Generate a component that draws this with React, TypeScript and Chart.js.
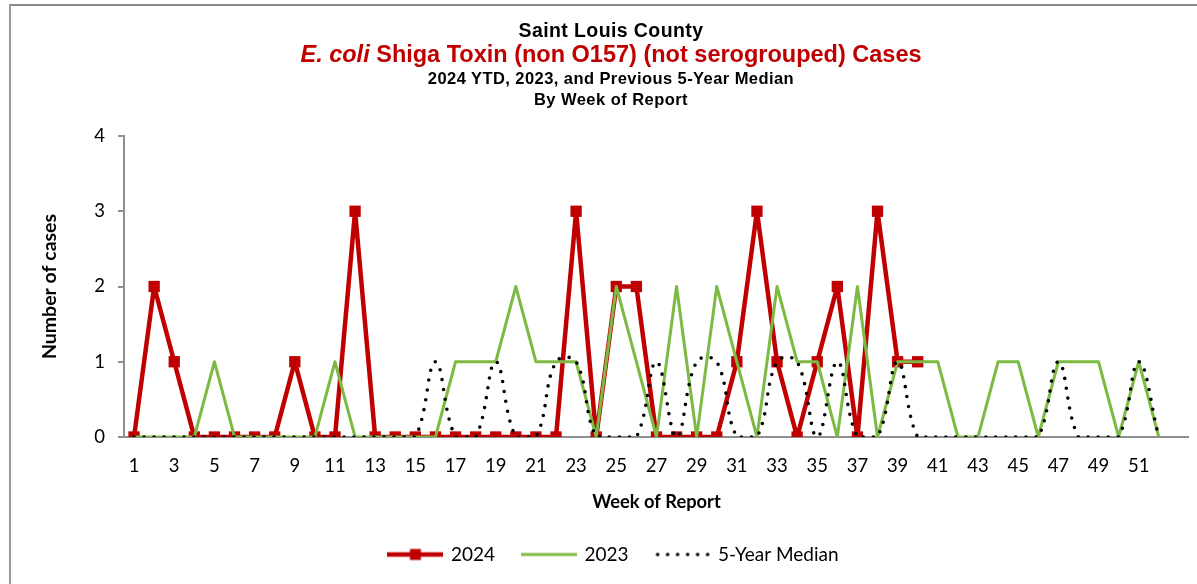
import React, { useEffect, useRef } from 'react';
import { Chart, registerables } from 'chart.js';

Chart.register(...registerables);

const weekLabels = [
  '1', '2', '3', '4', '5', '6', '7', '8', '9', '10',
  '11', '12', '13', '14', '15', '16', '17', '18', '19', '20',
  '21', '22', '23', '24', '25', '26', '27', '28', '29', '30',
  '31', '32', '33', '34', '35', '36', '37', '38', '39', '40',
  '41', '42', '43', '44', '45', '46', '47', '48', '49', '50',
  '51', '52', '',
];

const cases2024 = [
  0, 2, 1, 0, 0, 0, 0, 0, 1, 0,
  0, 3, 0, 0, 0, 0, 0, 0, 0, 0,
  0, 0, 3, 0, 2, 2, 0, 0, 0, 0,
  1, 3, 1, 0, 1, 2, 0, 3, 1, 1,
];

const cases2023 = [
  0, 0, 0, 0, 1, 0, 0, 0, 0, 0,
  1, 0, 0, 0, 0, 0, 1, 1, 1, 2,
  1, 1, 1, 0, 2, 1, 0, 2, 0, 2,
  1, 0, 2, 1, 1, 0, 2, 0, 1, 1,
  1, 0, 0, 1, 1, 0, 1, 1, 1, 0,
  1, 0,
];

const median5yr = [
  0, 0, 0, 0, 0, 0, 0, 0, 0, 0,
  0, 0, 0, 0, 0, 1, 0, 0, 1, 0,
  0, 1, 1, 0, 0, 0, 1, 0, 1, 1,
  0, 0, 1, 1, 0, 1, 0, 0, 1, 0,
  0, 0, 0, 0, 0, 0, 1, 0, 0, 0,
  1, 0,
];

const yTicks = [0, 1, 2, 3, 4];
const legendNames = ['2024', '2023', '5-Year Median'];

const RED = '#C00000';
const GREEN = '#7CBA44';
const BLACK = '#000000';
const AXIS = '#8F8F8F';
const TICK_FONT = 'Lato';

function makeLegendImage(kind: number): HTMLCanvasElement {
  const c = document.createElement('canvas');
  c.width = 56;
  c.height = 14;
  const ctx = c.getContext('2d')!;
  const cy = 7;
  if (kind === 0) {
    ctx.strokeStyle = RED;
    ctx.lineWidth = 4.5;
    ctx.beginPath();
    ctx.moveTo(0, cy);
    ctx.lineTo(56, cy);
    ctx.stroke();
    ctx.fillStyle = RED;
    ctx.fillRect(28 - 5.5, cy - 5.5, 11, 11);
  } else if (kind === 1) {
    ctx.strokeStyle = GREEN;
    ctx.lineWidth = 3;
    ctx.beginPath();
    ctx.moveTo(0, cy);
    ctx.lineTo(56, cy);
    ctx.stroke();
  } else {
    ctx.fillStyle = BLACK;
    for (let i = 0; i < 6; i++) {
      ctx.beginPath();
      ctx.arc(3 + i * 10, cy, 1.8, 0, Math.PI * 2);
      ctx.fill();
    }
  }
  return c;
}

export default function App() {
  const canvasRef = useRef<HTMLCanvasElement | null>(null);

  useEffect(() => {
    if (!canvasRef.current) return;
    const images = [makeLegendImage(0), makeLegendImage(1), makeLegendImage(2)];
    const chart = new Chart(canvasRef.current, {
      type: 'line',
      data: {
        labels: weekLabels,
        datasets: [
          {
            label: legendNames[0],
            data: cases2024,
            borderColor: RED,
            backgroundColor: RED,
            borderWidth: 4.5,
            borderJoinStyle: 'round',
            pointStyle: 'rect',
            pointRadius: 8,
            pointBorderWidth: 0,
            pointBackgroundColor: RED,
            tension: 0,
            order: 3,
          },
          {
            label: legendNames[1],
            data: cases2023,
            borderColor: GREEN,
            backgroundColor: GREEN,
            borderWidth: 3,
            borderJoinStyle: 'round',
            pointRadius: 0,
            tension: 0,
            order: 2,
          },
          {
            label: legendNames[2],
            data: median5yr,
            borderColor: BLACK,
            backgroundColor: BLACK,
            borderWidth: 3.6,
            borderDash: [0, 10],
            borderCapStyle: 'round',
            pointRadius: 0,
            tension: 0.4,
            order: 1,
          },
        ],
      },
      options: {
        responsive: false,
        animation: false,
        events: [],
        layout: { padding: { left: 36, right: 5, top: 136, bottom: 10 } },
        scales: {
          x: {
            type: 'category',
            offset: true,
            grid: { display: false, drawTicks: false },
            border: { display: true, color: AXIS, width: 2 },
            ticks: {
              autoSkip: false,
              maxRotation: 0,
              padding: 18,
              color: '#000',
              font: { family: TICK_FONT, size: 18.5 },
              callback: (_v: any, i: number) => (i % 2 === 0 ? weekLabels[i] : ''),
            },
            title: {
              display: true,
              text: 'Week of Report',
              color: '#000',
              font: { family: TICK_FONT, size: 18.3, weight: 'bold' },
              padding: { top: 4, bottom: 4 },
            },
            afterFit: (s: any) => {
              s.height = 80;
            },
          },
          y: {
            min: 0,
            max: 4,
            afterBuildTicks: (s: any) => {
              s.ticks = yTicks.map((v) => ({ value: v }));
            },
            grid: { drawOnChartArea: false, drawTicks: true, tickLength: 6, color: AXIS, lineWidth: 2 },
            border: { display: true, color: AXIS, width: 2 },
            ticks: {
              padding: 13,
              color: '#000',
              font: { family: TICK_FONT, size: 18.5 },
            },
            title: {
              display: true,
              text: 'Number of cases',
              color: '#000',
              font: { family: TICK_FONT, size: 19.5, weight: 'bold' },
              padding: { top: 2.5, bottom: 0 },
            },
            afterFit: (s: any) => {
              s.width = 88;
            },
          },
        },
        plugins: {
          tooltip: { enabled: false },
          title: { display: false },
          legend: {
            display: true,
            position: 'bottom',
            align: 'center',
            labels: {
              usePointStyle: true,
              pointStyleWidth: 52,
              padding: 28,
              color: '#000',
              font: { family: TICK_FONT, size: 19 },
              generateLabels: () =>
                legendNames.map((name, i) => ({
                  text: name,
                  pointStyle: images[i],
                  fillStyle: 'transparent',
                  strokeStyle: 'transparent',
                  lineWidth: 0,
                  hidden: false,
                  datasetIndex: i,
                  fontColor: '#000',
                })),
            },
          },
        },
      },
    } as any);
    return () => chart.destroy();
  }, []);

  const lineStyle = (top: number, size: number, color: string, ls: number): React.CSSProperties => ({
    position: 'absolute',
    left: 0,
    top,
    width: 1222,
    textAlign: 'center',
    fontFamily: '"Liberation Sans", Arial, sans-serif',
    fontWeight: 'bold',
    fontSize: size,
    lineHeight: `${size + 2}px`,
    color,
    whiteSpace: 'nowrap',
    letterSpacing: `${ls}px`,
  });

  return (
    <div style={{ position: 'absolute', left: 0, top: 0, width: 1197, height: 584, background: '#fff', overflow: 'hidden' }}>
      <div
        style={{
          position: 'absolute',
          left: 9,
          top: 4,
          width: 1400,
          height: 800,
          borderLeft: '2px solid #9a9a9a',
          borderTop: '2px solid #8a8a8a',
        }}
      />
      <canvas ref={canvasRef} width={1197} height={584} style={{ position: 'absolute', left: 0, top: 0 }} />
      <div style={lineStyle(20.25, 19.5, '#000', 0.4)}>Saint Louis County</div>
      <div style={lineStyle(42.25, 23.5, RED, 0)}>
        <i>E. coli</i> Shiga Toxin (non O157) (not serogrouped) Cases
      </div>
      <div style={lineStyle(68.75, 16.5, '#000', 0.43)}>2024 YTD, 2023, and Previous 5-Year Median</div>
      <div style={lineStyle(89.75, 16.5, '#000', 0.45)}>By Week of Report</div>
    </div>
  );
}
